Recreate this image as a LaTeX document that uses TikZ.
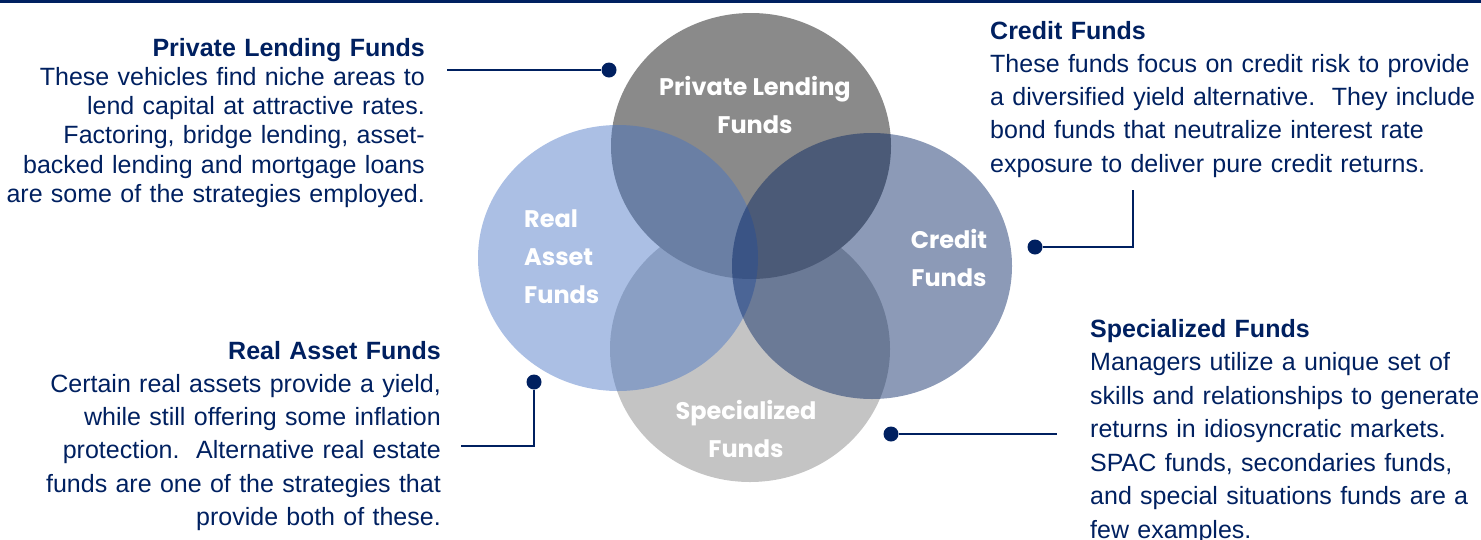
\documentclass[tikz,border=0pt]{standalone}
\usepackage{fontspec}
\setmainfont{Liberation Sans}
\newfontfamily\vennfont{Poppins}
\definecolor{navy}{HTML}{002060}
\definecolor{lendgrey}{HTML}{8A8A8A}
\definecolor{specgrey}{HTML}{C4C4C4}
\definecolor{assetblue}{HTML}{4472C4}
\tikzset{
  fundsdot/.style={circle,fill=navy,inner sep=0pt,minimum size=15pt},
  link/.style={navy,line width=1.6pt},
  venntext/.style={text=white,inner sep=0pt,font=\vennfont\bfseries\fontsize{24}{38}\selectfont},
  blurb/.style={text=navy,inner sep=0pt,text width=#1},
}
\begin{document}
\begin{tikzpicture}[x=1pt,y=-1pt]
  \useasboundingbox (0,0) rectangle (1481,539);
  \fill[navy] (0,0) rectangle (1481,3);

  % the four sets
  \fill[specgrey] (750,349) ellipse [x radius=140pt, y radius=133pt];
  \fill[lendgrey] (751,146) ellipse [x radius=140pt, y radius=133pt];
  \fill[assetblue,fill opacity=0.45] (618,258) ellipse [x radius=140pt, y radius=133pt];
  \fill[navy,fill opacity=0.45] (872,266) ellipse [x radius=140pt, y radius=133pt];

  \node[venntext,align=center] (lendname) at (755,105) {Private Lending\\Funds};
  \node[venntext,align=left,anchor=north west] (assetname) at (524,210) {Real\\Asset\\Funds};
  \node[venntext,align=center] (creditname) at (949,258) {Credit\\Funds};
  \node[venntext,align=center] (specname) at (746,429) {Specialized\\Funds};

  % descriptions
  \node[blurb=430pt,align=right,anchor=north east,font=\fontsize{25}{29.2}\selectfont] (lendtext) at (425,38) {%
    \textbf{Private Lending Funds}\\
    These vehicles find niche areas to\\
    lend capital at attractive rates.\\
    Factoring, bridge lending, asset-\\
    backed lending and mortgage loans\\
    are some of the strategies employed.};
  \node[blurb=495pt,align=left,anchor=north west,font=\fontsize{25}{33.2}\selectfont] (credittext) at (990,21) {%
    \textbf{Credit Funds}\\
    These funds focus on credit risk to provide\\
    a diversified yield alternative.\ \ They include\\
    bond funds that neutralize interest rate\\
    exposure to deliver pure credit returns.};
  \node[blurb=410pt,align=right,anchor=north east,font=\fontsize{25}{33.2}\selectfont] (assettext) at (441,341) {%
    \textbf{Real Asset Funds}\\
    Certain real assets provide a yield,\\
    while still offering some inflation\\
    protection.\ \ Alternative real estate\\
    funds are one of the strategies that\\
    provide both of these.};
  \node[blurb=400pt,align=left,anchor=north west,font=\fontsize{25}{33.5}\selectfont] (spectext) at (1090,319) {%
    \textbf{Specialized Funds}\\
    Managers utilize a unique set of\\
    skills and relationships to generate\\
    returns in idiosyncratic markets.\\
    SPAC funds, secondaries funds,\\
    and special situations funds are a\\
    few examples.};

  % pointers
  \node[fundsdot] (lenddot) at (609,70) {};
  \node[fundsdot] (creditdot) at (1035,247) {};
  \node[fundsdot] (assetdot) at (534,382) {};
  \node[fundsdot] (specdot) at (891,434) {};
  \coordinate (lendend) at (447,70);
  \coordinate (creditend) at (1133,190);
  \coordinate (assetend) at (461,446);
  \coordinate (specend) at (1057,434);

  \draw[link] (lendend) -- (lenddot);
  \draw[link] (creditdot) -| (creditend);
  \draw[link] (assetdot) |- (assetend);
  \draw[link] (specdot) -- (specend);
\end{tikzpicture}
\end{document}
